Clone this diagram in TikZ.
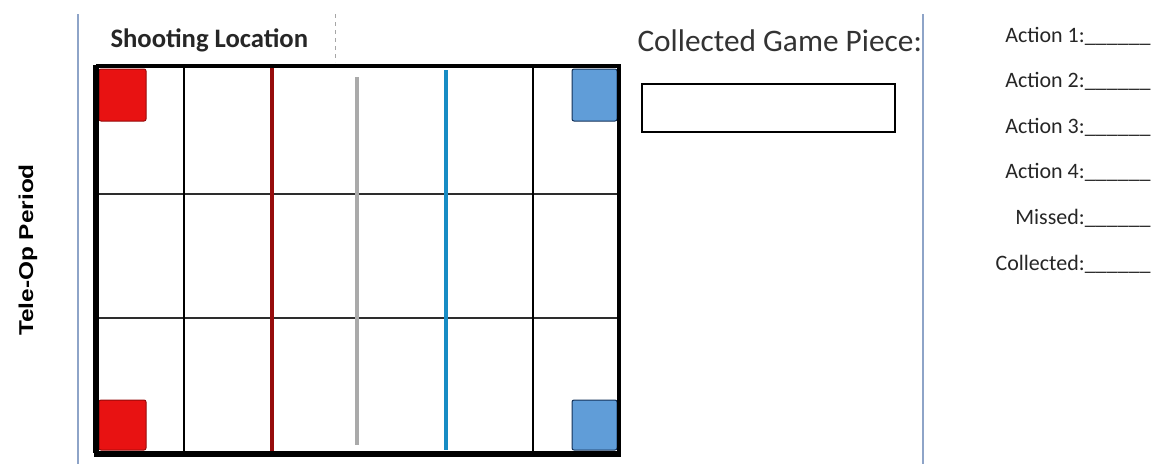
\documentclass[tikz,border=0pt]{standalone}
\usepackage{fontspec}
\setmainfont{Carlito}
\newfontfamily\periodfont{Liberation Sans}

\definecolor{sepblue}{RGB}{142,164,200}
\definecolor{redgoal}{RGB}{232,18,18}
\definecolor{rededge}{RGB}{150,10,10}
\definecolor{bluegoal}{RGB}{96,157,216}
\definecolor{blueedge}{RGB}{20,50,90}
\definecolor{redline}{RGB}{150,12,12}
\definecolor{grayline}{RGB}{170,170,170}
\definecolor{blueline}{RGB}{24,140,196}
\definecolor{gridline}{RGB}{45,45,45}

\tikzset{every picture/.style={line width=0.75pt}}
\tikzset{
  divider/.style={color=sepblue, line width=1.5},
  redbox/.style={fill=redgoal, draw=rededge, line width=0.75, rounded corners=1.5},
  bluebox/.style={fill=bluegoal, draw=blueedge, line width=0.75, rounded corners=1.5},
  scoreline/.style={anchor=base east, font=\fontsize{16.5}{18}\selectfont, text=black!85, inner sep=0pt},
}

\begin{document}
\begin{tikzpicture}[x=0.75pt,y=0.75pt,yscale=-1,xscale=1]
\useasboundingbox (0,0) rectangle (1151,464);

%Straight Lines
\draw [divider]    (78,14) -- (78,464) ;
%Straight Lines
\draw [divider]    (923,14) -- (923,464) ;
%Straight Lines
\draw [color=gray!70, dashed, line width=0.75]    (335,14) -- (335,62) ;

%Text
\node [rotate=90, font=\periodfont\bfseries\fontsize{15}{17}\selectfont] (period) at (28,250) {\scalebox{1.22}[1]{Tele-Op Period}};
%Text
\node [anchor=base west, inner sep=0pt, font=\bfseries\fontsize{20}{22}\selectfont, text=black!85] (shooting) at (110,47) {Shooting Location};
%Text
\node [anchor=base west, inner sep=0pt, font=\fontsize{23.5}{26}\selectfont, text=black!80] (collected) at (637,51) {Collected Game Piece:};

%Shape: Rectangle
\draw [line width=1.2]   (642,84) rectangle (895,132) ;

%Shape: Goal squares
\draw [redbox]   (99,69) rectangle (146,121) ;
\draw [redbox]   (99,400) rectangle (146,450) ;
\draw [bluebox]   (572,69) rectangle (617,121) ;
\draw [bluebox]   (572,400) rectangle (617,450) ;

%Straight Lines
\draw [color=gridline, line width=1.8]    (96,194) -- (619,194) ;
%Straight Lines
\draw [color=gridline, line width=1.8]    (96,318) -- (619,318) ;
%Straight Lines
\draw [line width=2]    (184,66) -- (184,453) ;
%Straight Lines
\draw [line width=2]    (533,66) -- (533,453) ;
%Straight Lines
\draw [color=redline, line width=3]    (272,66) -- (272,453) ;
%Straight Lines
\draw [color=grayline, line width=3]    (357,77) -- (357,445) ;
%Straight Lines
\draw [color=blueline, line width=3]    (446,70) -- (446,450) ;

%Shape: Field border
\draw [line width=2.6]   (96,66) -- (619,66) -- (619,453) ;
\draw [line width=4]   (96,64.5) -- (96,453) ;
\draw [line width=4.5]   (94,453.5) -- (621,453.5) ;

%Text
\node [scoreline] (act1) at (1151,42) {Action 1:\_\_\_\_\_\_};
\node [scoreline] (act2) at (1151,87.6) {Action 2:\_\_\_\_\_\_};
\node [scoreline] (act3) at (1151,133.2) {Action 3:\_\_\_\_\_\_};
\node [scoreline] (act4) at (1151,178.8) {Action 4:\_\_\_\_\_\_};
\node [scoreline] (missed) at (1151,224.4) {Missed:\_\_\_\_\_\_};
\node [scoreline] (coll) at (1151,270) {Collected:\_\_\_\_\_\_};

\end{tikzpicture}
\end{document}
